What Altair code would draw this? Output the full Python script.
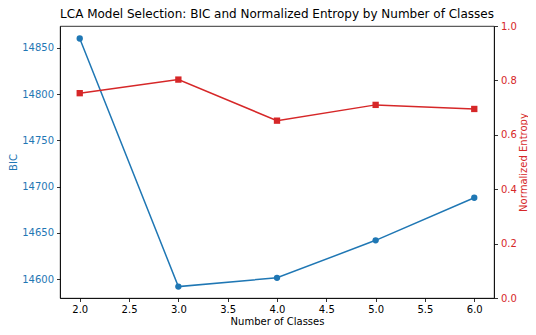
import altair as alt
import pandas as pd

classes = [2, 3, 4, 5, 6]
bic = [14860, 14592, 14601.5, 14642, 14688]
entropy = [0.753, 0.803, 0.652, 0.710, 0.695]

x_ticks = [2.0, 2.5, 3.0, 3.5, 4.0, 4.5, 5.0, 5.5, 6.0]
bic_ticks = [14600, 14650, 14700, 14750, 14800, 14850]
ent_ticks = [0.0, 0.2, 0.4, 0.6, 0.8, 1.0]

BLUE = "#1f77b4"
RED = "#d62728"

df_bic = pd.DataFrame({"k": classes, "BIC": bic})
df_ent = pd.DataFrame({"k": classes, "Entropy": entropy})

x_enc = alt.X(
    "k:Q",
    scale=alt.Scale(domain=[1.8, 6.2], nice=False, zero=False),
    axis=alt.Axis(values=x_ticks, format=".1f", title="Number of Classes",
                  titlePadding=2, labelPadding=2.5),
)

bic_layer = alt.Chart(df_bic).mark_line(
    color=BLUE, strokeWidth=1.5,
    point=alt.OverlayMarkDef(shape="circle", filled=True, size=40, color=BLUE, opacity=1),
).encode(
    x=x_enc,
    y=alt.Y(
        "BIC:Q",
        scale=alt.Scale(domain=[14579.7, 14873.5], nice=False, zero=False),
        axis=alt.Axis(values=bic_ticks, orient="left", title="BIC",
                      labelColor=BLUE, titleColor=BLUE, format="d"),
    ),
)

ent_layer = alt.Chart(df_ent).mark_line(
    color=RED, strokeWidth=1.5,
    point=alt.OverlayMarkDef(shape="square", filled=True, size=40, color=RED, opacity=1),
).encode(
    x=x_enc,
    y=alt.Y(
        "Entropy:Q",
        scale=alt.Scale(domain=[0, 1], nice=False),
        axis=alt.Axis(values=ent_ticks, orient="right", title="Normalized Entropy",
                      labelColor=RED, titleColor=RED, format=".1f",
                      titleAngle=270, titleBaseline="top", titlePadding=2,
                      labelPadding=3),
    ),
)

chart = alt.layer(bic_layer, ent_layer).resolve_scale(y="independent").properties(
    width=434,
    height=272,
    title=alt.TitleParams(
        "LCA Model Selection: BIC and Normalized Entropy by Number of Classes",
        font="DejaVu Sans", fontSize=12, fontWeight="normal", color="black",
        anchor="middle", offset=0,
    ),
    autosize=alt.AutoSizeParams(type="none"),
    padding={"left": 52, "top": 18, "right": 34, "bottom": 29},
).configure_view(
    stroke="black", strokeWidth=0.8,
).configure_axis(
    labelFont="DejaVu Sans", labelFontSize=10, titleFont="DejaVu Sans",
    titleFontSize=10, titleFontWeight="normal", grid=False,
    domainColor="black", domainWidth=0.8, tickColor="black", tickWidth=0.8,
    tickSize=3.5, labelPadding=3, titlePadding=3, labelColor="black",
    titleColor="black",
)

chart.save("out.html", embed_options={"renderer": "svg", "actions": False})
